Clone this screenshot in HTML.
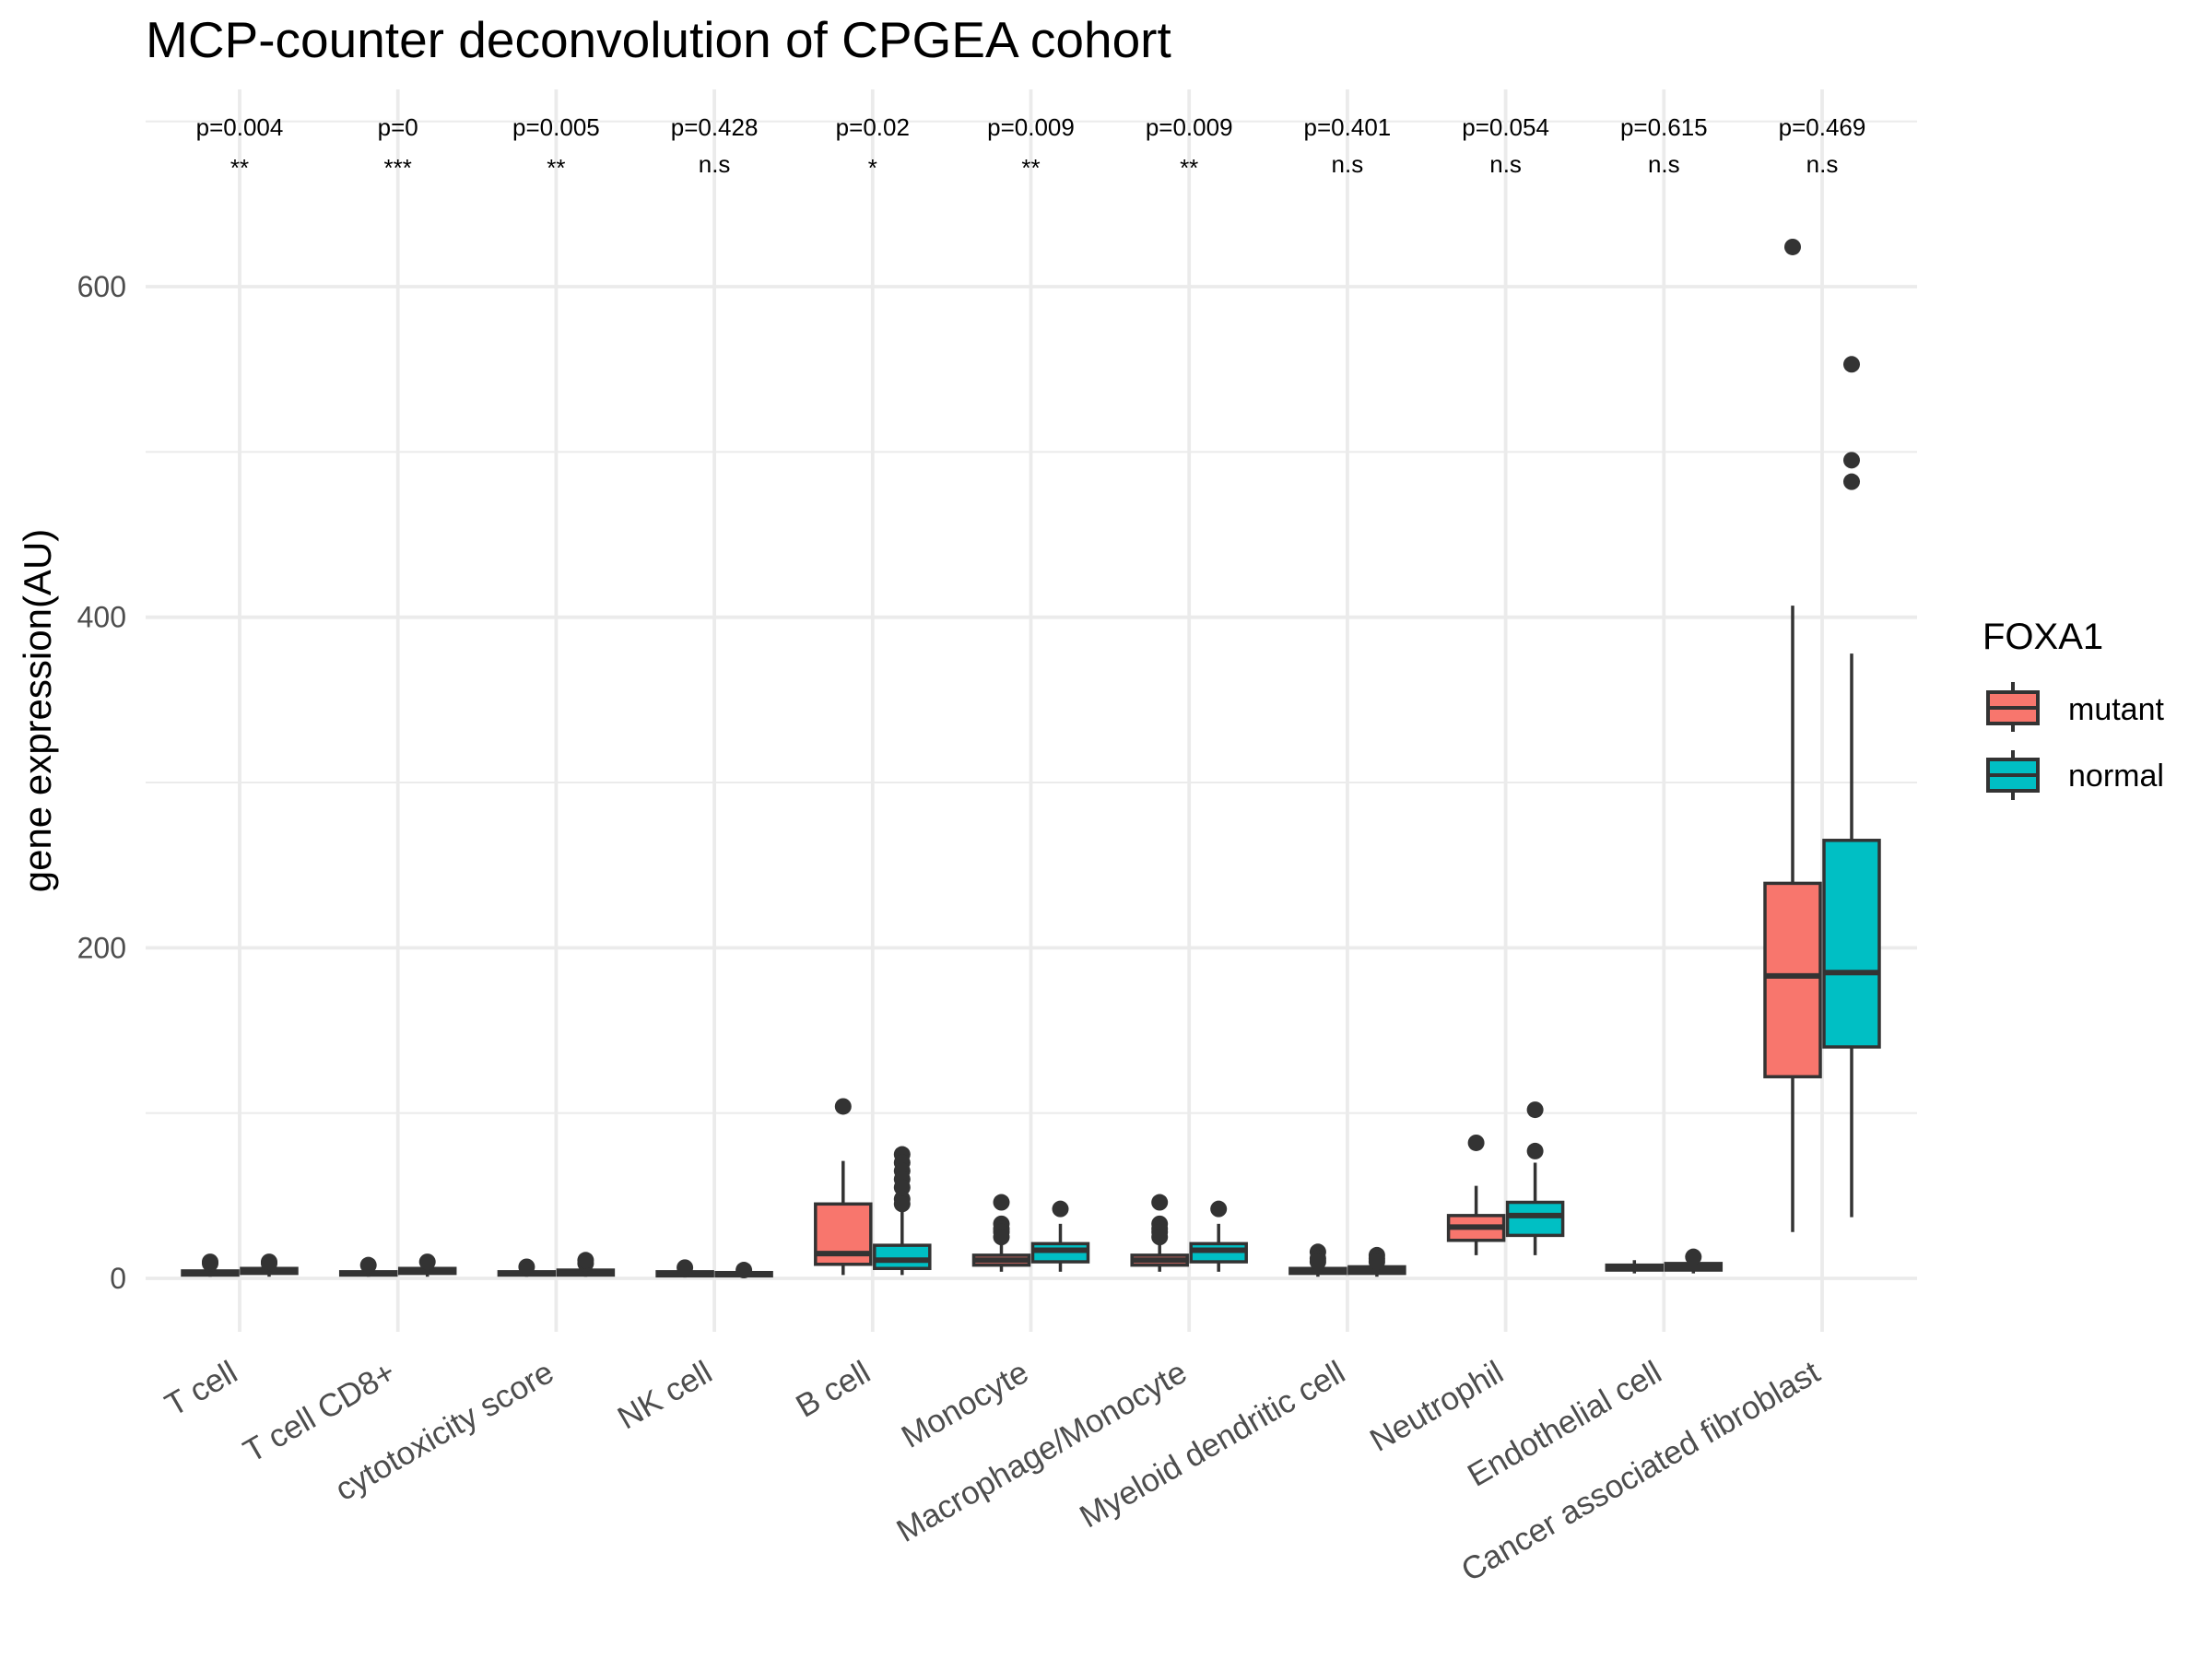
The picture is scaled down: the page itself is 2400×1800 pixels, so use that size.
<!DOCTYPE html>
<html><head><meta charset="utf-8"><style>
html,body{margin:0;padding:0;background:#fff;}
svg{display:block;font-family:"Liberation Sans",sans-serif;}
</style></head><body>
<svg id="chart" width="2400" height="1800" viewBox="0 0 2400 1800">
<text x="158" y="62" font-size="55" fill="#000">MCP-counter deconvolution of CPGEA cohort</text>
<g id="grid"></g>
<g id="boxes"></g>
<g id="annot"></g>
<g id="axes"></g>
<text transform="translate(55,771) rotate(-90)" text-anchor="middle" font-size="42" fill="#000">gene expression(AU)</text>
<g>
<text x="2151" y="704" font-size="40" fill="#000">FOXA1</text>
<g>
<line x1="2184" y1="740" x2="2184" y2="794" stroke="#333" stroke-width="4"/>
<rect x="2157" y="751" width="54" height="34" fill="#F8766D" stroke="#333" stroke-width="4"/>
<line x1="2157" y1="768" x2="2211" y2="768" stroke="#333" stroke-width="4"/>
<text x="2244" y="781" font-size="34" fill="#000">mutant</text>
</g>
<g>
<line x1="2184" y1="814" x2="2184" y2="868" stroke="#333" stroke-width="4"/>
<rect x="2157" y="824" width="54" height="34" fill="#00BFC4" stroke="#333" stroke-width="4"/>
<line x1="2157" y1="841" x2="2211" y2="841" stroke="#333" stroke-width="4"/>
<text x="2244" y="853" font-size="34" fill="#000">normal</text>
</g>
</g>
</svg>
<script>
const categories = ["T cell","T cell CD8+","cytotoxicity score","NK cell","B cell","Monocyte","Macrophage/Monocyte","Myeloid dendritic cell","Neutrophil","Endothelial cell","Cancer associated fibroblast"];
const pLabels = ["p=0.004","p=0","p=0.005","p=0.428","p=0.02","p=0.009","p=0.009","p=0.401","p=0.054","p=0.615","p=0.469"];
const sigLabels = ["**","***","**","n.s","*","**","**","n.s","n.s","n.s","n.s"];
const yTicks = [0,200,400,600];
const yMinor = [100,300,500,700];
// [lower whisker, q1, median, q3, upper whisker]
const mutantStats = [[1,2,3,4.5,7],[1,2,3,4,6],[1,2,3,4,6],[0.5,1.5,2.5,4,6],[2,8.5,15,45,71],[4,8,11,14,24],[4,8,11,14,24],[1,3,4,6,9],[14,23,31,38,56],[3,5,6,8,11],[28,122,183,239,407]];
const normalStats = [[1,3,4,6,8],[1,3,4,6,8],[1,2,3,5,7],[0.5,1.5,2.5,3.5,5],[2,6,11,20,41],[4,10,17,21,33],[4,10,17,21,33],[1,3,5,7,10],[14,26,38,46,70],[3,5,7,9,11],[37,140,185,265,378]];
const mutantOutliers = [[9,10],[8],[7],[6.5],[104],[46,33,30,28,25],[46,33,30,28,25],[16,12,10],[82],[],[624]];
const normalOutliers = [[9,10],[10],[9,11],[5],[75,70,65,60,55,48,45],[42],[42],[14,12,10],[77,102],[13],[553,495,482]];

const NS='http://www.w3.org/2000/svg';
const L=158,R=2080,T=97,B=1445;
function xPos(i){return 260+i*171.7;}
function yPos(v){return 1387-v*1.7933;}
function mk(tag,attrs,parent){const e=document.createElementNS(NS,tag);for(const k in attrs)e.setAttribute(k,attrs[k]);parent.appendChild(e);return e;}
const grid=document.getElementById('grid'),boxes=document.getElementById('boxes'),annot=document.getElementById('annot'),axes=document.getElementById('axes');
yMinor.forEach(v=>{const l=mk('line',{x1:L,x2:R,y1:yPos(v),y2:yPos(v),stroke:'#ebebeb','stroke-width':2},grid);

});
yTicks.forEach(v=>{const l=mk('line',{x1:L,x2:R,y1:yPos(v),y2:yPos(v),stroke:'#ebebeb','stroke-width':3.8},grid);


const t=mk('text',{x:137,y:yPos(v)+11,'text-anchor':'end','font-size':32,fill:'#4d4d4d'},axes);t.textContent=v;

});
categories.forEach((c,i)=>{const x=xPos(i);
const l=mk('line',{x1:x,x2:x,y1:T,y2:B,stroke:'#ebebeb','stroke-width':3.8},grid);


const t=mk('text',{transform:`translate(${x},1496) rotate(-30)`,'text-anchor':'end','font-size':35,fill:'#4d4d4d'},axes);t.textContent=c;


const p=mk('text',{x:x,y:147,'text-anchor':'middle','font-size':26,fill:'#000'},annot);p.textContent=pLabels[i];


const s=mk('text',{x:x,y:sigLabels[i]==='n.s'?187:191,'text-anchor':'middle','font-size':26,fill:'#000'},annot);s.textContent=sigLabels[i];


});
function drawBox(i,st,outs,off,col,name){
const cx=xPos(i)+off,hw=30;
const g=mk('g',{},boxes);


mk('line',{x1:cx,x2:cx,y1:yPos(st[0]),y2:yPos(st[4]),stroke:'#333','stroke-width':3.5},g);
const y3=yPos(st[3]),y1=yPos(st[1]);
mk('rect',{x:cx-hw,y:y3,width:2*hw,height:Math.max(y1-y3,0.5),fill:col,stroke:'#333','stroke-width':3.5},g);
mk('line',{x1:cx-hw,x2:cx+hw,y1:yPos(st[2]),y2:yPos(st[2]),stroke:'#333','stroke-width':6},g);
outs.forEach(v=>{const c=mk('circle',{cx:cx,cy:yPos(v),r:9,fill:'#333'},g);

});
}
categories.forEach((c,i)=>{
drawBox(i,mutantStats[i],mutantOutliers[i],-32,'#F8766D','box-mutant');
drawBox(i,normalStats[i],normalOutliers[i],32,'#00BFC4','box-normal');
});
</script>
</body></html>
